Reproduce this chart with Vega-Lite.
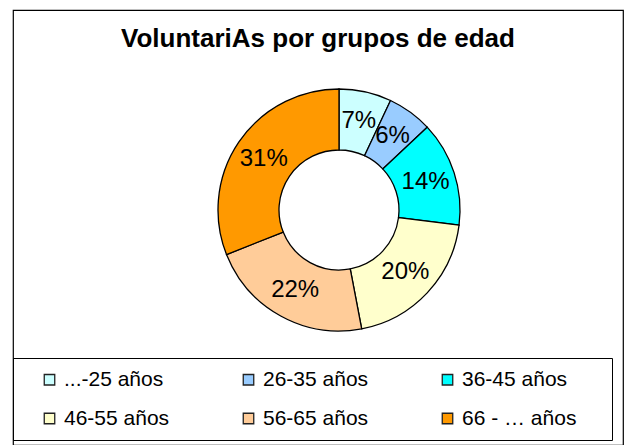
{
  "$schema": "https://vega.github.io/schema/vega-lite/v6.json",
  "width": 610,
  "height": 435,
  "autosize": {"type": "none"},
  "padding": {"left": 13, "top": 10, "right": 6, "bottom": 0},
  "background": "white",
  "view": {"stroke": "#000", "strokeWidth": 1.2},
  "title": {
    "text": "VoluntariAs por grupos de edad",
    "anchor": "middle",
    "frame": "group",
    "offset": -63,
    "baseline": "alphabetic",
    "font": "Liberation Sans",
    "fontSize": 26,
    "fontWeight": "bold",
    "color": "#000"
  },
  "data": {
    "values": [
      {"grupo": "...-25 años", "pct": 0.07, "orden": 1},
      {"grupo": "26-35 años", "pct": 0.06, "orden": 2},
      {"grupo": "36-45 años", "pct": 0.14, "orden": 3},
      {"grupo": "46-55 años", "pct": 0.20, "orden": 4},
      {"grupo": "56-65 años", "pct": 0.22, "orden": 5},
      {"grupo": "66 - … años", "pct": 0.31, "orden": 6}
    ]
  },
  "encoding": {
    "theta": {"field": "pct", "type": "quantitative", "stack": true},
    "order": {"field": "orden", "type": "quantitative"},
    "color": {
      "field": "grupo",
      "type": "nominal",
      "sort": null,
      "scale": {
        "domain": ["...-25 años", "26-35 años", "36-45 años", "46-55 años", "56-65 años", "66 - … años"],
        "range": ["#CCFFFF", "#99CCFF", "#00FFFF", "#FFFFCC", "#FFCC99", "#FF9900"]
      },
      "legend": {
        "orient": "none",
        "direction": "horizontal",
        "legendX": 0,
        "legendY": 348,
        "title": " ",
        "titleOrient": "right",
        "titleFontSize": 13,
        "titlePadding": 25,
        "columns": 3,
        "symbolType": "square",
        "symbolSize": 110,
        "symbolStrokeColor": "#222",
        "symbolStrokeWidth": 1.3,
        "labelFont": "Liberation Sans",
        "labelFontSize": 21,
        "labelColor": "#000",
        "labelOffset": 4,
        "labelLimit": 300,
        "strokeColor": "#000",
        "padding": 11,
        "rowPadding": 17,
        "columnPadding": 44,
        "symbolOffset": 15,
        "gridAlign": "all"
      }
    }
  },
  "layer": [
    {
      "mark": {"type": "arc", "innerRadius": 60, "outerRadius": 121, "stroke": "#000", "strokeWidth": 1.3, "x": 326, "y": 200}
    },
    {
      "mark": {"type": "text", "radius": 91, "x": 326, "y": 200, "font": "Liberation Sans", "fontSize": 24},
      "encoding": {
        "text": {"field": "pct", "type": "quantitative", "format": ".0%"},
        "color": {"value": "#000"}
      }
    }
  ],
  "config": {
    "view": {"stroke": "#000", "strokeWidth": 1.2}
  }
}
